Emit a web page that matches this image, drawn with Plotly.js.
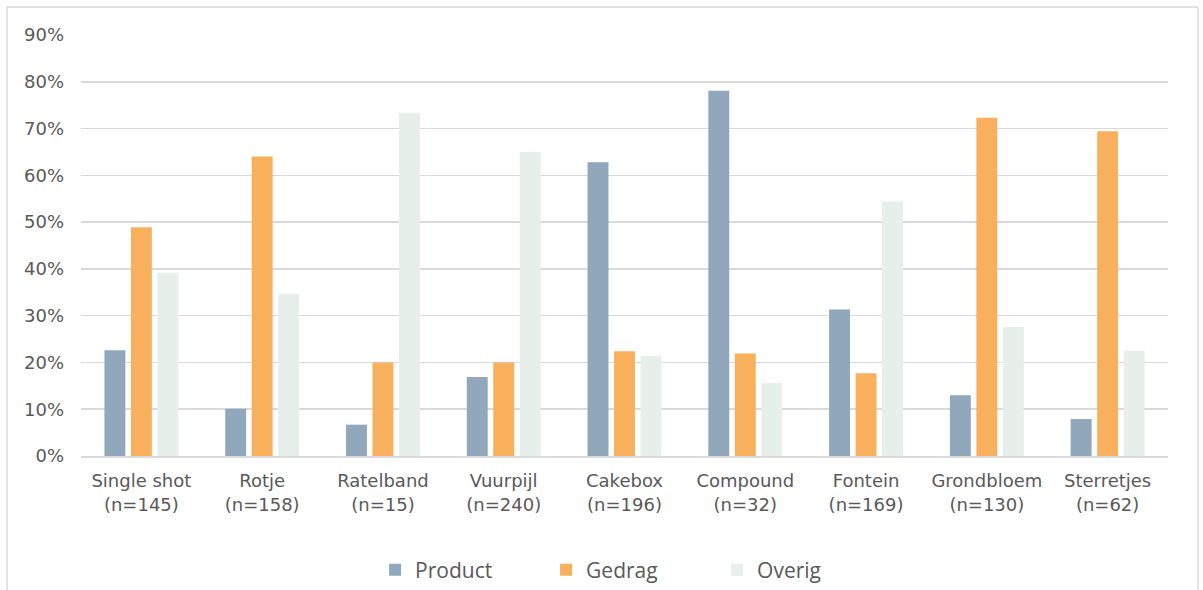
<!DOCTYPE html>
<html>
<head>
<meta charset="utf-8">
<script src="https://cdn.plot.ly/plotly-3.0.1.min.js"></script>
<style>
  html, body { margin: 0; padding: 0; background: #ffffff; }
  #chart { width: 1203px; height: 590px; }
</style>
</head>
<body>
<div id="chart"></div>
<script>
const categories = [
  "Single shot<br>(n=145)", "Rotje<br>(n=158)", "Ratelband<br>(n=15)",
  "Vuurpijl<br>(n=240)", "Cakebox<br>(n=196)", "Compound<br>(n=32)",
  "Fontein<br>(n=169)", "Grondbloem<br>(n=130)", "Sterretjes<br>(n=62)"
];
const product = [0.226, 0.101, 0.067, 0.169, 0.628, 0.781, 0.313, 0.130, 0.079];
const gedrag  = [0.489, 0.640, 0.200, 0.200, 0.224, 0.219, 0.177, 0.723, 0.694];
const overig  = [0.392, 0.347, 0.733, 0.650, 0.214, 0.156, 0.544, 0.276, 0.225];
const yTicks = [0, 0.1, 0.2, 0.3, 0.4, 0.5, 0.6, 0.7, 0.8, 0.9];

const seriesNames = ["Product", "Gedrag", "Overig"];
const seriesColors = ["#91a7bc", "#f8b05c", "#e6efea"];
const seriesData = [product, gedrag, overig];

const traces = seriesData.map((vals, i) => ({
  type: "bar",
  name: seriesNames[i],
  x: categories,
  y: vals,
  marker: { color: seriesColors[i], line: { width: 0 } },
  hoverinfo: "skip"
}));

const layout = {
  width: 1203,
  height: 590,
  paper_bgcolor: "#ffffff",
  plot_bgcolor: "#ffffff",
  margin: { l: 81, r: 35, t: 35, b: 134, autoexpand: false },
  barmode: "group",
  bargap: 0.342,
  bargroupgap: 0.21,
  font: { family: "DejaVu Sans, sans-serif", color: "#595959", size: 18 },
  xaxis: {
    type: "category",
    showgrid: false,
    zeroline: false,
    showline: true,
    linecolor: "#d9d9d9",
    linewidth: 1.5,
    ticks: "",
    tickfont: { family: "DejaVu Sans, sans-serif", size: 18, color: "#595959" },
    ticklabelstandoff: 8,
    automargin: false,
    fixedrange: true
  },
  yaxis: {
    range: [0, 0.9],
    tickvals: yTicks,
    tickformat: ".0%",
    showgrid: true,
    gridcolor: "#d9d9d9",
    gridwidth: 1.5,
    zeroline: false,
    showline: false,
    ticks: "",
    tickfont: { family: "DejaVu Sans, sans-serif", size: 18, color: "#595959" },
    ticklabelstandoff: 16,
    automargin: false,
    fixedrange: true
  },
  legend: {
    orientation: "h",
    xref: "container",
    yref: "container",
    x: 0.525,
    xanchor: "center",
    y: 20 / 590,
    yanchor: "middle",
    entrywidth: 126,
    font: { family: "Open Sans, sans-serif", size: 21, color: "#595959" },
    itemclick: false,
    itemdoubleclick: false
  },
  showlegend: true
};

// Outer frame (open at the bottom), positioned in paper fractions from pixel values
const plotW = 1203 - 81 - 35, plotH = 590 - 35 - 134;
function px(xp) { return (xp - 81) / plotW; }
function py(yp) { return (590 - 134 - yp) / plotH; }
layout.shapes = [
  { type: "line", xref: "paper", yref: "paper", x0: px(7), x1: px(7), y0: py(7), y1: py(600), line: { color: "#d9d9d9", width: 1.5 } },
  { type: "line", xref: "paper", yref: "paper", x0: px(7), x1: px(1198), y0: py(7), y1: py(7), line: { color: "#d9d9d9", width: 1.5 } },
  { type: "line", xref: "paper", yref: "paper", x0: px(1198), x1: px(1198), y0: py(7), y1: py(600), line: { color: "#d9d9d9", width: 1.5 } }
];

Plotly.newPlot("chart", traces, layout, { displayModeBar: false, staticPlot: true });
</script>
</body>
</html>
